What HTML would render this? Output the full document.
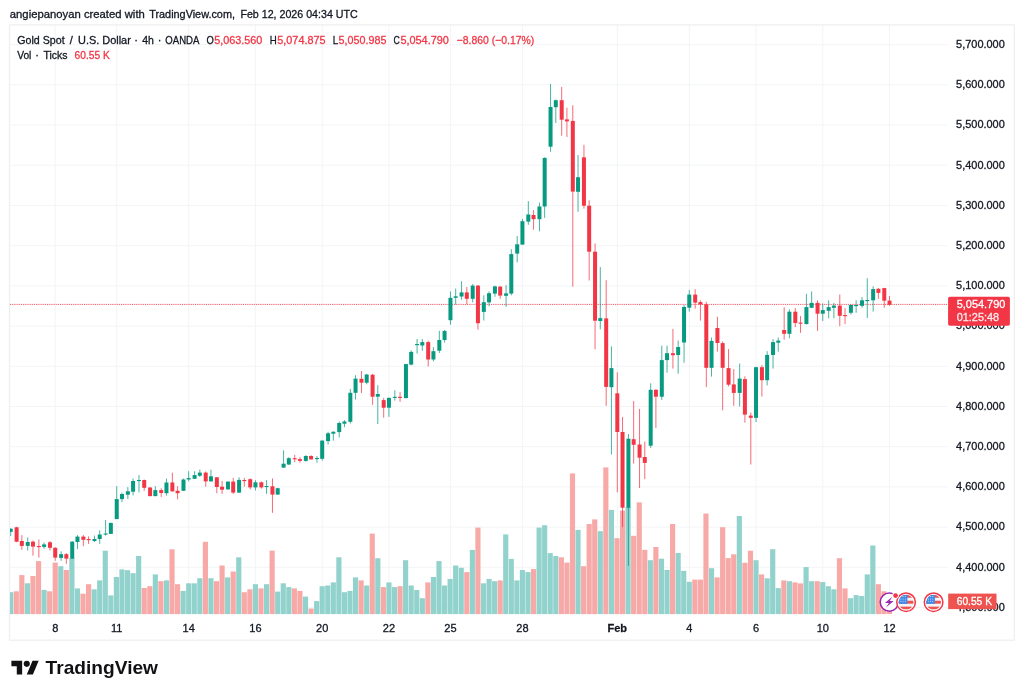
<!DOCTYPE html>
<html lang="en"><head><meta charset="utf-8"><title>Gold Spot / U.S. Dollar</title>
<style>html,body{margin:0;padding:0;background:#fff;}body{width:1024px;height:696px;overflow:hidden;font-family:"Liberation Sans", sans-serif;}svg{display:block;will-change:transform;}text{font-family:"Liberation Sans", sans-serif;paint-order:stroke fill;}</style></head><body>
<svg width="1024" height="696" viewBox="0 0 1024 696">
<rect width="1024" height="696" fill="#fff"/>
<defs><clipPath id="pane"><rect x="10" y="25" width="938" height="592"/></clipPath><clipPath id="fc"><circle cx="0" cy="0" r="7.4"/></clipPath></defs>
<g stroke="#f2f4f6" stroke-width="1"><line x1="10" x2="947.5" y1="607.5" y2="607.5"/><line x1="10" x2="947.5" y1="567.3" y2="567.3"/><line x1="10" x2="947.5" y1="527.1" y2="527.1"/><line x1="10" x2="947.5" y1="486.9" y2="486.9"/><line x1="10" x2="947.5" y1="446.7" y2="446.7"/><line x1="10" x2="947.5" y1="406.5" y2="406.5"/><line x1="10" x2="947.5" y1="366.3" y2="366.3"/><line x1="10" x2="947.5" y1="326.1" y2="326.1"/><line x1="10" x2="947.5" y1="285.9" y2="285.9"/><line x1="10" x2="947.5" y1="245.7" y2="245.7"/><line x1="10" x2="947.5" y1="205.4" y2="205.4"/><line x1="10" x2="947.5" y1="165.2" y2="165.2"/><line x1="10" x2="947.5" y1="125.0" y2="125.0"/><line x1="10" x2="947.5" y1="84.8" y2="84.8"/><line x1="10" x2="947.5" y1="44.6" y2="44.6"/><line x1="55.2" x2="55.2" y1="25" y2="614"/><line x1="116.7" x2="116.7" y1="25" y2="614"/><line x1="188.7" x2="188.7" y1="25" y2="614"/><line x1="255.4" x2="255.4" y1="25" y2="614"/><line x1="322.2" x2="322.2" y1="25" y2="614"/><line x1="388.9" x2="388.9" y1="25" y2="614"/><line x1="450.4" x2="450.4" y1="25" y2="614"/><line x1="522.4" x2="522.4" y1="25" y2="614"/><line x1="617.3" x2="617.3" y1="25" y2="614"/><line x1="689.3" x2="689.3" y1="25" y2="614"/><line x1="756.0" x2="756.0" y1="25" y2="614"/><line x1="822.8" x2="822.8" y1="25" y2="614"/><line x1="889.5" x2="889.5" y1="25" y2="614"/></g>
<rect x="9.5" y="24.9" width="1004.9" height="615.3" fill="none" stroke="#eeeff2" stroke-width="1.3"/>
<g clip-path="url(#pane)"><g fill="#92d2cc"><rect x="8.14" y="592.2" width="5.16" height="21.9"/><rect x="24.83" y="583.3" width="5.16" height="30.8"/><rect x="41.51" y="589.9" width="5.16" height="24.2"/><rect x="58.20" y="566.2" width="5.16" height="47.9"/><rect x="69.32" y="558.0" width="5.16" height="56.1"/><rect x="74.88" y="588.4" width="5.16" height="25.7"/><rect x="91.57" y="589.3" width="5.16" height="24.8"/><rect x="97.13" y="580.4" width="5.16" height="33.7"/><rect x="102.69" y="550.7" width="5.16" height="63.4"/><rect x="108.26" y="595.4" width="5.16" height="18.7"/><rect x="113.82" y="577.0" width="5.16" height="37.1"/><rect x="119.38" y="569.4" width="5.16" height="44.7"/><rect x="124.94" y="570.2" width="5.16" height="43.9"/><rect x="130.50" y="573.2" width="5.16" height="40.9"/><rect x="136.07" y="556.0" width="5.16" height="58.1"/><rect x="152.75" y="574.4" width="5.16" height="39.7"/><rect x="163.88" y="580.4" width="5.16" height="33.7"/><rect x="180.56" y="590.9" width="5.16" height="23.2"/><rect x="186.12" y="583.3" width="5.16" height="30.8"/><rect x="191.69" y="583.3" width="5.16" height="30.8"/><rect x="197.25" y="578.2" width="5.16" height="35.9"/><rect x="208.37" y="578.2" width="5.16" height="35.9"/><rect x="225.06" y="577.4" width="5.16" height="36.7"/><rect x="236.18" y="557.3" width="5.16" height="56.8"/><rect x="252.87" y="584.2" width="5.16" height="29.9"/><rect x="263.99" y="584.2" width="5.16" height="29.9"/><rect x="275.12" y="591.6" width="5.16" height="22.5"/><rect x="280.68" y="583.3" width="5.16" height="30.8"/><rect x="286.24" y="587.1" width="5.16" height="27.0"/><rect x="302.93" y="596.6" width="5.16" height="17.5"/><rect x="314.05" y="601.1" width="5.16" height="13.0"/><rect x="319.61" y="586.2" width="5.16" height="27.9"/><rect x="325.17" y="585.5" width="5.16" height="28.6"/><rect x="330.74" y="582.4" width="5.16" height="31.7"/><rect x="336.30" y="557.3" width="5.16" height="56.8"/><rect x="341.86" y="592.2" width="5.16" height="21.9"/><rect x="347.42" y="590.9" width="5.16" height="23.2"/><rect x="352.98" y="577.4" width="5.16" height="36.7"/><rect x="364.11" y="585.5" width="5.16" height="28.6"/><rect x="375.23" y="558.2" width="5.16" height="55.9"/><rect x="386.36" y="582.4" width="5.16" height="31.7"/><rect x="391.92" y="587.1" width="5.16" height="27.0"/><rect x="403.04" y="560.2" width="5.16" height="53.9"/><rect x="408.60" y="585.5" width="5.16" height="28.6"/><rect x="414.17" y="590.0" width="5.16" height="24.1"/><rect x="419.73" y="598.2" width="5.16" height="15.9"/><rect x="430.85" y="577.0" width="5.16" height="37.1"/><rect x="436.41" y="561.1" width="5.16" height="53.0"/><rect x="441.98" y="585.5" width="5.16" height="28.6"/><rect x="447.54" y="578.9" width="5.16" height="35.2"/><rect x="453.10" y="565.5" width="5.16" height="48.6"/><rect x="458.66" y="567.8" width="5.16" height="46.3"/><rect x="469.79" y="549.9" width="5.16" height="64.2"/><rect x="480.91" y="583.3" width="5.16" height="30.8"/><rect x="486.47" y="578.9" width="5.16" height="35.2"/><rect x="492.03" y="581.2" width="5.16" height="32.9"/><rect x="503.16" y="534.4" width="5.16" height="79.7"/><rect x="508.72" y="558.9" width="5.16" height="55.2"/><rect x="514.28" y="580.4" width="5.16" height="33.7"/><rect x="519.84" y="570.0" width="5.16" height="44.1"/><rect x="525.41" y="572.1" width="5.16" height="42.0"/><rect x="536.53" y="527.6" width="5.16" height="86.5"/><rect x="542.09" y="525.2" width="5.16" height="88.9"/><rect x="547.65" y="553.1" width="5.16" height="61.0"/><rect x="553.22" y="556.0" width="5.16" height="58.1"/><rect x="575.46" y="529.9" width="5.16" height="84.2"/><rect x="597.71" y="531.2" width="5.16" height="82.9"/><rect x="608.84" y="509.9" width="5.16" height="104.2"/><rect x="625.52" y="507.0" width="5.16" height="107.1"/><rect x="647.77" y="560.2" width="5.16" height="53.9"/><rect x="658.89" y="558.7" width="5.16" height="55.4"/><rect x="664.46" y="570.0" width="5.16" height="44.1"/><rect x="675.58" y="553.0" width="5.16" height="61.1"/><rect x="681.14" y="570.8" width="5.16" height="43.3"/><rect x="686.70" y="581.8" width="5.16" height="32.3"/><rect x="708.95" y="568.2" width="5.16" height="45.9"/><rect x="736.76" y="516.0" width="5.16" height="98.1"/><rect x="753.45" y="560.2" width="5.16" height="53.9"/><rect x="764.57" y="578.3" width="5.16" height="35.8"/><rect x="770.13" y="549.2" width="5.16" height="64.9"/><rect x="775.70" y="588.1" width="5.16" height="26.0"/><rect x="786.82" y="581.2" width="5.16" height="32.9"/><rect x="803.51" y="567.1" width="5.16" height="47.0"/><rect x="809.07" y="581.2" width="5.16" height="32.9"/><rect x="820.19" y="582.0" width="5.16" height="32.1"/><rect x="825.75" y="586.2" width="5.16" height="27.9"/><rect x="831.32" y="589.3" width="5.16" height="24.8"/><rect x="848.00" y="598.2" width="5.16" height="15.9"/><rect x="853.56" y="595.1" width="5.16" height="19.0"/><rect x="859.13" y="596.0" width="5.16" height="18.1"/><rect x="864.69" y="574.4" width="5.16" height="39.7"/><rect x="870.25" y="545.5" width="5.16" height="68.6"/></g><g fill="#f7a9a7"><rect x="13.70" y="591.3" width="5.16" height="22.8"/><rect x="19.26" y="575.1" width="5.16" height="39.0"/><rect x="30.39" y="576.0" width="5.16" height="38.1"/><rect x="35.95" y="561.1" width="5.16" height="53.0"/><rect x="47.07" y="591.3" width="5.16" height="22.8"/><rect x="52.64" y="562.6" width="5.16" height="51.5"/><rect x="63.76" y="570.0" width="5.16" height="44.1"/><rect x="80.45" y="593.7" width="5.16" height="20.4"/><rect x="86.01" y="584.2" width="5.16" height="29.9"/><rect x="141.63" y="588.0" width="5.16" height="26.1"/><rect x="147.19" y="586.2" width="5.16" height="27.9"/><rect x="158.31" y="581.2" width="5.16" height="32.9"/><rect x="169.44" y="549.3" width="5.16" height="64.8"/><rect x="175.00" y="584.2" width="5.16" height="29.9"/><rect x="202.81" y="541.8" width="5.16" height="72.3"/><rect x="213.93" y="581.2" width="5.16" height="32.9"/><rect x="219.50" y="565.5" width="5.16" height="48.6"/><rect x="230.62" y="571.5" width="5.16" height="42.6"/><rect x="241.74" y="592.2" width="5.16" height="21.9"/><rect x="247.31" y="589.3" width="5.16" height="24.8"/><rect x="258.43" y="588.4" width="5.16" height="25.7"/><rect x="269.55" y="550.6" width="5.16" height="63.5"/><rect x="291.80" y="588.4" width="5.16" height="25.7"/><rect x="297.36" y="590.9" width="5.16" height="23.2"/><rect x="308.49" y="608.5" width="5.16" height="5.6"/><rect x="358.55" y="580.4" width="5.16" height="33.7"/><rect x="369.67" y="533.6" width="5.16" height="80.5"/><rect x="380.79" y="587.1" width="5.16" height="27.0"/><rect x="397.48" y="586.2" width="5.16" height="27.9"/><rect x="425.29" y="582.4" width="5.16" height="31.7"/><rect x="464.22" y="572.1" width="5.16" height="42.0"/><rect x="475.35" y="527.6" width="5.16" height="86.5"/><rect x="497.60" y="580.4" width="5.16" height="33.7"/><rect x="530.97" y="569.1" width="5.16" height="45.0"/><rect x="558.78" y="557.3" width="5.16" height="56.8"/><rect x="564.34" y="562.6" width="5.16" height="51.5"/><rect x="569.90" y="473.4" width="5.16" height="140.7"/><rect x="581.03" y="566.2" width="5.16" height="47.9"/><rect x="586.59" y="524.0" width="5.16" height="90.1"/><rect x="592.15" y="519.4" width="5.16" height="94.7"/><rect x="603.27" y="467.4" width="5.16" height="146.7"/><rect x="614.40" y="538.2" width="5.16" height="75.9"/><rect x="619.96" y="510.6" width="5.16" height="103.5"/><rect x="631.08" y="535.8" width="5.16" height="78.3"/><rect x="636.65" y="502.4" width="5.16" height="111.7"/><rect x="642.21" y="549.9" width="5.16" height="64.2"/><rect x="653.33" y="547.0" width="5.16" height="67.1"/><rect x="670.02" y="524.0" width="5.16" height="90.1"/><rect x="692.27" y="579.6" width="5.16" height="34.5"/><rect x="697.83" y="579.6" width="5.16" height="34.5"/><rect x="703.39" y="513.5" width="5.16" height="100.6"/><rect x="714.51" y="577.4" width="5.16" height="36.7"/><rect x="720.08" y="527.2" width="5.16" height="86.9"/><rect x="725.64" y="558.1" width="5.16" height="56.0"/><rect x="731.20" y="554.3" width="5.16" height="59.8"/><rect x="742.32" y="562.8" width="5.16" height="51.3"/><rect x="747.89" y="550.7" width="5.16" height="63.4"/><rect x="759.01" y="574.4" width="5.16" height="39.7"/><rect x="781.26" y="580.4" width="5.16" height="33.7"/><rect x="792.38" y="582.4" width="5.16" height="31.7"/><rect x="797.94" y="583.4" width="5.16" height="30.7"/><rect x="814.63" y="581.2" width="5.16" height="32.9"/><rect x="836.88" y="558.2" width="5.16" height="55.9"/><rect x="842.44" y="588.4" width="5.16" height="25.7"/><rect x="875.81" y="584.2" width="5.16" height="29.9"/><rect x="881.37" y="591.3" width="5.16" height="22.8"/><rect x="886.94" y="601.0" width="5.16" height="13.1"/></g></g>
<line x1="10" x2="947.5" y1="304.4" y2="304.4" stroke="#f23645" stroke-width="1" stroke-dasharray="0.9 0.95" opacity="0.95"/>
<g clip-path="url(#pane)"><g stroke="#089981" stroke-width="0.9" opacity="0.82"><line x1="10.72" x2="10.72" y1="528.0" y2="536.1"/><line x1="27.74" x2="27.74" y1="537.4" y2="550.5"/><line x1="44.09" x2="44.09" y1="542.5" y2="548.8"/><line x1="61.11" x2="61.11" y1="551.3" y2="560.8"/><line x1="72.23" x2="72.23" y1="541.0" y2="558.9"/><line x1="77.46" x2="77.46" y1="535.1" y2="549.1"/><line x1="94.48" x2="94.48" y1="535.6" y2="542.0"/><line x1="99.71" x2="99.71" y1="530.3" y2="543.9"/><line x1="105.60" x2="105.60" y1="520.0" y2="535.6"/><line x1="110.84" x2="110.84" y1="522.4" y2="533.9"/><line x1="116.73" x2="116.73" y1="486.2" y2="519.1"/><line x1="121.96" x2="121.96" y1="492.7" y2="502.0"/><line x1="127.85" x2="127.85" y1="487.1" y2="499.1"/><line x1="133.08" x2="133.08" y1="478.6" y2="495.4"/><line x1="138.98" x2="138.98" y1="475.1" y2="492.4"/><line x1="155.33" x2="155.33" y1="486.2" y2="496.3"/><line x1="166.46" x2="166.46" y1="478.6" y2="495.6"/><line x1="183.47" x2="183.47" y1="478.6" y2="491.0"/><line x1="188.70" x2="188.70" y1="471.2" y2="481.3"/><line x1="194.60" x2="194.60" y1="471.2" y2="479.0"/><line x1="199.83" x2="199.83" y1="469.6" y2="477.0"/><line x1="210.95" x2="210.95" y1="469.6" y2="481.6"/><line x1="227.97" x2="227.97" y1="481.4" y2="489.6"/><line x1="239.09" x2="239.09" y1="477.3" y2="493.0"/><line x1="255.45" x2="255.45" y1="480.2" y2="490.4"/><line x1="266.57" x2="266.57" y1="480.2" y2="493.9"/><line x1="277.70" x2="277.70" y1="487.8" y2="494.8"/><line x1="283.59" x2="283.59" y1="450.3" y2="467.8"/><line x1="288.82" x2="288.82" y1="457.2" y2="465.0"/><line x1="305.84" x2="305.84" y1="455.2" y2="461.8"/><line x1="316.96" x2="316.96" y1="456.2" y2="462.7"/><line x1="322.19" x2="322.19" y1="440.3" y2="460.6"/><line x1="328.08" x2="328.08" y1="431.8" y2="444.5"/><line x1="333.32" x2="333.32" y1="431.1" y2="440.6"/><line x1="339.21" x2="339.21" y1="421.5" y2="437.6"/><line x1="344.44" x2="344.44" y1="420.1" y2="427.2"/><line x1="350.33" x2="350.33" y1="388.9" y2="423.5"/><line x1="355.56" x2="355.56" y1="375.2" y2="399.6"/><line x1="366.69" x2="366.69" y1="374.0" y2="384.3"/><line x1="377.81" x2="377.81" y1="385.2" y2="424.0"/><line x1="388.94" x2="388.94" y1="397.5" y2="416.9"/><line x1="394.83" x2="394.83" y1="390.3" y2="400.6"/><line x1="405.95" x2="405.95" y1="363.8" y2="398.3"/><line x1="411.18" x2="411.18" y1="350.4" y2="365.4"/><line x1="417.08" x2="417.08" y1="339.0" y2="353.6"/><line x1="422.31" x2="422.31" y1="339.0" y2="350.7"/><line x1="433.43" x2="433.43" y1="347.2" y2="361.4"/><line x1="439.32" x2="439.32" y1="330.9" y2="353.0"/><line x1="444.56" x2="444.56" y1="330.2" y2="342.6"/><line x1="450.45" x2="450.45" y1="291.4" y2="324.8"/><line x1="455.68" x2="455.68" y1="288.5" y2="304.6"/><line x1="461.57" x2="461.57" y1="281.2" y2="299.7"/><line x1="472.70" x2="472.70" y1="284.1" y2="302.4"/><line x1="483.82" x2="483.82" y1="295.3" y2="320.5"/><line x1="489.05" x2="489.05" y1="291.4" y2="306.3"/><line x1="494.94" x2="494.94" y1="285.6" y2="296.8"/><line x1="506.07" x2="506.07" y1="285.1" y2="306.9"/><line x1="511.30" x2="511.30" y1="249.2" y2="295.3"/><line x1="517.19" x2="517.19" y1="236.0" y2="262.4"/><line x1="522.42" x2="522.42" y1="218.9" y2="244.8"/><line x1="528.32" x2="528.32" y1="201.1" y2="224.8"/><line x1="539.44" x2="539.44" y1="202.6" y2="231.3"/><line x1="544.67" x2="544.67" y1="157.3" y2="217.9"/><line x1="550.56" x2="550.56" y1="84.0" y2="151.8"/><line x1="555.80" x2="555.80" y1="99.5" y2="122.9"/><line x1="578.04" x2="578.04" y1="155.0" y2="211.8"/><line x1="600.29" x2="600.29" y1="267.1" y2="329.3"/><line x1="611.42" x2="611.42" y1="346.4" y2="454.5"/><line x1="628.43" x2="628.43" y1="434.0" y2="565.8"/><line x1="650.68" x2="650.68" y1="383.3" y2="448.0"/><line x1="661.80" x2="661.80" y1="345.7" y2="399.9"/><line x1="667.04" x2="667.04" y1="345.7" y2="372.7"/><line x1="678.16" x2="678.16" y1="340.5" y2="373.7"/><line x1="684.05" x2="684.05" y1="305.0" y2="362.7"/><line x1="689.28" x2="689.28" y1="289.9" y2="311.6"/><line x1="711.53" x2="711.53" y1="337.5" y2="376.6"/><line x1="739.67" x2="739.67" y1="363.6" y2="406.5"/><line x1="756.03" x2="756.03" y1="366.8" y2="422.0"/><line x1="767.15" x2="767.15" y1="351.2" y2="385.4"/><line x1="773.04" x2="773.04" y1="339.1" y2="368.6"/><line x1="778.28" x2="778.28" y1="337.5" y2="351.7"/><line x1="789.40" x2="789.40" y1="309.3" y2="338.2"/><line x1="806.42" x2="806.42" y1="293.9" y2="324.4"/><line x1="811.65" x2="811.65" y1="291.5" y2="308.1"/><line x1="822.77" x2="822.77" y1="303.4" y2="321.0"/><line x1="828.66" x2="828.66" y1="300.3" y2="318.3"/><line x1="833.90" x2="833.90" y1="302.9" y2="318.3"/><line x1="850.91" x2="850.91" y1="304.4" y2="314.5"/><line x1="856.14" x2="856.14" y1="300.3" y2="312.8"/><line x1="862.04" x2="862.04" y1="297.0" y2="307.7"/><line x1="867.27" x2="867.27" y1="278.2" y2="318.0"/><line x1="873.16" x2="873.16" y1="286.4" y2="311.6"/></g><g stroke="#f23645" stroke-width="0.9" opacity="0.82"><line x1="16.61" x2="16.61" y1="526.8" y2="542.3"/><line x1="21.84" x2="21.84" y1="535.1" y2="549.8"/><line x1="32.97" x2="32.97" y1="540.5" y2="555.6"/><line x1="38.86" x2="38.86" y1="539.5" y2="557.6"/><line x1="49.98" x2="49.98" y1="541.0" y2="550.5"/><line x1="55.22" x2="55.22" y1="547.3" y2="560.8"/><line x1="66.34" x2="66.34" y1="553.0" y2="563.8"/><line x1="83.36" x2="83.36" y1="535.1" y2="546.2"/><line x1="88.59" x2="88.59" y1="536.4" y2="543.9"/><line x1="144.21" x2="144.21" y1="479.5" y2="490.8"/><line x1="150.10" x2="150.10" y1="487.2" y2="496.3"/><line x1="161.22" x2="161.22" y1="488.3" y2="496.9"/><line x1="172.35" x2="172.35" y1="472.7" y2="491.8"/><line x1="177.58" x2="177.58" y1="486.2" y2="499.3"/><line x1="205.72" x2="205.72" y1="471.4" y2="486.7"/><line x1="216.84" x2="216.84" y1="477.3" y2="493.3"/><line x1="222.08" x2="222.08" y1="480.9" y2="493.9"/><line x1="233.20" x2="233.20" y1="477.9" y2="493.9"/><line x1="244.32" x2="244.32" y1="477.9" y2="486.7"/><line x1="250.22" x2="250.22" y1="478.4" y2="489.4"/><line x1="261.34" x2="261.34" y1="481.5" y2="488.7"/><line x1="272.46" x2="272.46" y1="478.4" y2="512.8"/><line x1="294.71" x2="294.71" y1="454.9" y2="462.1"/><line x1="299.94" x2="299.94" y1="457.2" y2="462.7"/><line x1="311.07" x2="311.07" y1="455.2" y2="459.6"/><line x1="361.46" x2="361.46" y1="371.0" y2="393.1"/><line x1="372.58" x2="372.58" y1="374.0" y2="404.8"/><line x1="383.70" x2="383.70" y1="397.9" y2="417.7"/><line x1="400.06" x2="400.06" y1="392.1" y2="401.8"/><line x1="428.20" x2="428.20" y1="340.6" y2="366.5"/><line x1="466.80" x2="466.80" y1="287.0" y2="304.3"/><line x1="477.93" x2="477.93" y1="285.1" y2="329.7"/><line x1="500.18" x2="500.18" y1="286.1" y2="298.8"/><line x1="533.55" x2="533.55" y1="210.1" y2="229.7"/><line x1="561.69" x2="561.69" y1="86.9" y2="135.7"/><line x1="566.92" x2="566.92" y1="107.7" y2="137.0"/><line x1="572.81" x2="572.81" y1="105.3" y2="286.7"/><line x1="583.94" x2="583.94" y1="144.8" y2="208.7"/><line x1="589.17" x2="589.17" y1="200.3" y2="280.5"/><line x1="595.06" x2="595.06" y1="243.4" y2="349.3"/><line x1="606.18" x2="606.18" y1="280.2" y2="405.8"/><line x1="617.31" x2="617.31" y1="372.3" y2="492.3"/><line x1="622.54" x2="622.54" y1="416.9" y2="527.2"/><line x1="633.66" x2="633.66" y1="401.1" y2="463.6"/><line x1="639.56" x2="639.56" y1="408.9" y2="488.0"/><line x1="644.79" x2="644.79" y1="441.6" y2="479.2"/><line x1="655.91" x2="655.91" y1="389.3" y2="427.9"/><line x1="672.93" x2="672.93" y1="328.8" y2="368.6"/><line x1="695.18" x2="695.18" y1="289.1" y2="308.6"/><line x1="700.41" x2="700.41" y1="300.4" y2="320.6"/><line x1="706.30" x2="706.30" y1="301.8" y2="387.1"/><line x1="717.42" x2="717.42" y1="316.7" y2="351.5"/><line x1="722.66" x2="722.66" y1="341.4" y2="410.3"/><line x1="728.55" x2="728.55" y1="349.0" y2="386.4"/><line x1="733.78" x2="733.78" y1="369.1" y2="405.8"/><line x1="744.90" x2="744.90" y1="376.3" y2="422.7"/><line x1="750.80" x2="750.80" y1="412.5" y2="464.5"/><line x1="761.92" x2="761.92" y1="365.2" y2="396.6"/><line x1="784.17" x2="784.17" y1="307.3" y2="339.7"/><line x1="795.29" x2="795.29" y1="308.1" y2="327.1"/><line x1="800.52" x2="800.52" y1="316.1" y2="332.9"/><line x1="817.54" x2="817.54" y1="300.3" y2="331.0"/><line x1="839.79" x2="839.79" y1="294.5" y2="326.3"/><line x1="845.02" x2="845.02" y1="308.0" y2="324.0"/><line x1="878.39" x2="878.39" y1="288.0" y2="298.9"/><line x1="884.28" x2="884.28" y1="287.8" y2="307.7"/><line x1="889.52" x2="889.52" y1="295.9" y2="305.9"/></g><g fill="#089981"><rect x="8.72" y="528.8" width="4" height="3.1"/><rect x="25.74" y="542.0" width="4" height="3.9"/><rect x="42.09" y="544.4" width="4" height="2.5"/><rect x="59.11" y="554.2" width="4" height="3.7"/><rect x="70.23" y="541.7" width="4" height="16.9"/><rect x="75.46" y="536.6" width="4" height="5.4"/><rect x="92.48" y="539.0" width="4" height="2.0"/><rect x="97.71" y="534.5" width="4" height="4.5"/><rect x="103.60" y="533.5" width="4" height="1.1"/><rect x="108.84" y="523.0" width="4" height="10.9"/><rect x="114.73" y="499.1" width="4" height="20.0"/><rect x="119.96" y="494.0" width="4" height="5.1"/><rect x="125.85" y="491.3" width="4" height="3.4"/><rect x="131.08" y="481.0" width="4" height="10.7"/><rect x="136.98" y="480.0" width="4" height="1.1"/><rect x="153.33" y="490.1" width="4" height="6.0"/><rect x="164.46" y="482.5" width="4" height="10.7"/><rect x="181.47" y="479.5" width="4" height="11.3"/><rect x="186.70" y="478.1" width="4" height="1.4"/><rect x="192.60" y="475.1" width="4" height="3.7"/><rect x="197.83" y="472.6" width="4" height="3.1"/><rect x="208.95" y="476.3" width="4" height="5.1"/><rect x="225.97" y="481.6" width="4" height="7.8"/><rect x="237.09" y="479.9" width="4" height="12.7"/><rect x="253.45" y="482.3" width="4" height="5.1"/><rect x="264.57" y="486.0" width="4" height="1.1"/><rect x="275.70" y="488.2" width="4" height="6.4"/><rect x="281.59" y="463.7" width="4" height="3.9"/><rect x="286.82" y="458.2" width="4" height="6.3"/><rect x="303.84" y="456.0" width="4" height="4.9"/><rect x="314.96" y="458.0" width="4" height="1.1"/><rect x="320.19" y="440.6" width="4" height="18.2"/><rect x="326.08" y="433.3" width="4" height="7.8"/><rect x="331.32" y="431.8" width="4" height="1.9"/><rect x="337.21" y="423.0" width="4" height="9.1"/><rect x="342.44" y="421.5" width="4" height="2.2"/><rect x="348.33" y="392.8" width="4" height="29.0"/><rect x="353.56" y="378.6" width="4" height="14.2"/><rect x="364.69" y="374.5" width="4" height="8.2"/><rect x="375.81" y="394.0" width="4" height="2.7"/><rect x="386.94" y="397.9" width="4" height="9.8"/><rect x="392.83" y="396.8" width="4" height="1.1"/><rect x="403.95" y="364.1" width="4" height="34.0"/><rect x="409.18" y="351.9" width="4" height="12.7"/><rect x="415.08" y="344.0" width="4" height="1.1"/><rect x="420.31" y="342.1" width="4" height="3.4"/><rect x="431.43" y="351.2" width="4" height="8.3"/><rect x="437.32" y="340.0" width="4" height="10.7"/><rect x="442.56" y="330.9" width="4" height="9.1"/><rect x="448.45" y="297.8" width="4" height="22.4"/><rect x="453.68" y="296.3" width="4" height="1.5"/><rect x="459.57" y="292.4" width="4" height="4.1"/><rect x="470.70" y="285.6" width="4" height="13.2"/><rect x="481.82" y="302.2" width="4" height="9.7"/><rect x="487.05" y="293.2" width="4" height="9.2"/><rect x="492.94" y="286.4" width="4" height="7.2"/><rect x="504.07" y="293.4" width="4" height="2.4"/><rect x="509.30" y="254.1" width="4" height="39.5"/><rect x="515.19" y="244.3" width="4" height="9.3"/><rect x="520.42" y="221.2" width="4" height="23.4"/><rect x="526.32" y="214.5" width="4" height="7.1"/><rect x="537.44" y="206.5" width="4" height="12.7"/><rect x="542.67" y="157.9" width="4" height="48.6"/><rect x="548.56" y="107.0" width="4" height="39.7"/><rect x="553.80" y="100.2" width="4" height="7.0"/><rect x="576.04" y="177.2" width="4" height="14.6"/><rect x="598.29" y="318.1" width="4" height="2.9"/><rect x="609.42" y="368.1" width="4" height="19.1"/><rect x="626.43" y="438.7" width="4" height="69.0"/><rect x="648.68" y="389.8" width="4" height="55.9"/><rect x="659.80" y="360.1" width="4" height="36.6"/><rect x="665.04" y="353.2" width="4" height="6.9"/><rect x="676.16" y="347.0" width="4" height="8.0"/><rect x="682.05" y="307.0" width="4" height="35.5"/><rect x="687.28" y="294.6" width="4" height="13.1"/><rect x="709.53" y="340.9" width="4" height="26.9"/><rect x="737.67" y="378.6" width="4" height="14.3"/><rect x="754.03" y="367.2" width="4" height="50.6"/><rect x="765.15" y="354.9" width="4" height="25.3"/><rect x="771.04" y="342.1" width="4" height="12.9"/><rect x="776.28" y="340.6" width="4" height="2.1"/><rect x="787.40" y="311.7" width="4" height="22.1"/><rect x="804.42" y="307.1" width="4" height="17.0"/><rect x="809.65" y="302.9" width="4" height="4.9"/><rect x="820.77" y="310.1" width="4" height="3.6"/><rect x="826.66" y="307.1" width="4" height="3.7"/><rect x="831.90" y="305.6" width="4" height="2.2"/><rect x="848.91" y="305.0" width="4" height="7.8"/><rect x="854.14" y="305.0" width="4" height="1.1"/><rect x="860.04" y="300.3" width="4" height="5.5"/><rect x="865.27" y="300.0" width="4" height="1.1"/><rect x="871.16" y="289.1" width="4" height="11.2"/></g><g fill="#f23645"><rect x="14.61" y="527.3" width="4" height="14.4"/><rect x="19.84" y="541.0" width="4" height="4.9"/><rect x="30.97" y="541.7" width="4" height="4.9"/><rect x="36.86" y="546.0" width="4" height="1.1"/><rect x="47.98" y="542.3" width="4" height="5.5"/><rect x="53.22" y="547.8" width="4" height="9.8"/><rect x="64.34" y="554.2" width="4" height="4.4"/><rect x="81.36" y="536.6" width="4" height="3.2"/><rect x="86.59" y="539.1" width="4" height="1.1"/><rect x="142.21" y="480.0" width="4" height="7.8"/><rect x="148.10" y="487.5" width="4" height="8.6"/><rect x="159.22" y="490.1" width="4" height="2.9"/><rect x="170.35" y="482.5" width="4" height="8.8"/><rect x="175.58" y="490.8" width="4" height="2.4"/><rect x="203.72" y="472.6" width="4" height="8.8"/><rect x="214.84" y="477.3" width="4" height="9.7"/><rect x="220.08" y="486.7" width="4" height="3.0"/><rect x="231.20" y="481.6" width="4" height="11.0"/><rect x="242.32" y="480.0" width="4" height="1.1"/><rect x="248.22" y="479.2" width="4" height="8.2"/><rect x="259.34" y="482.3" width="4" height="5.1"/><rect x="270.46" y="486.3" width="4" height="8.3"/><rect x="292.71" y="458.2" width="4" height="1.1"/><rect x="297.94" y="459.1" width="4" height="1.8"/><rect x="309.07" y="456.0" width="4" height="3.4"/><rect x="359.46" y="378.8" width="4" height="3.9"/><rect x="370.58" y="374.7" width="4" height="22.0"/><rect x="381.70" y="400.1" width="4" height="7.6"/><rect x="398.06" y="396.8" width="4" height="1.1"/><rect x="426.20" y="342.1" width="4" height="17.4"/><rect x="464.80" y="292.4" width="4" height="6.4"/><rect x="475.93" y="285.6" width="4" height="37.6"/><rect x="498.18" y="286.6" width="4" height="9.0"/><rect x="531.55" y="215.0" width="4" height="4.2"/><rect x="559.69" y="100.2" width="4" height="19.5"/><rect x="564.92" y="119.4" width="4" height="2.0"/><rect x="570.81" y="120.9" width="4" height="70.7"/><rect x="581.94" y="157.3" width="4" height="48.4"/><rect x="587.17" y="205.7" width="4" height="46.0"/><rect x="593.06" y="251.7" width="4" height="69.0"/><rect x="604.18" y="318.4" width="4" height="68.5"/><rect x="615.31" y="393.3" width="4" height="38.7"/><rect x="620.54" y="432.0" width="4" height="75.7"/><rect x="631.66" y="439.2" width="4" height="5.6"/><rect x="637.56" y="444.5" width="4" height="13.2"/><rect x="642.79" y="457.0" width="4" height="5.9"/><rect x="653.91" y="389.8" width="4" height="6.9"/><rect x="670.93" y="353.2" width="4" height="2.0"/><rect x="693.18" y="294.6" width="4" height="8.0"/><rect x="698.41" y="302.1" width="4" height="2.4"/><rect x="704.30" y="304.3" width="4" height="63.5"/><rect x="715.42" y="328.0" width="4" height="15.0"/><rect x="720.66" y="343.1" width="4" height="24.7"/><rect x="726.55" y="368.1" width="4" height="16.6"/><rect x="731.78" y="384.4" width="4" height="8.5"/><rect x="742.90" y="379.1" width="4" height="35.5"/><rect x="748.80" y="415.6" width="4" height="2.2"/><rect x="759.92" y="367.2" width="4" height="13.0"/><rect x="782.17" y="330.0" width="4" height="3.8"/><rect x="793.29" y="311.7" width="4" height="11.3"/><rect x="798.52" y="322.6" width="4" height="1.1"/><rect x="815.54" y="302.9" width="4" height="10.8"/><rect x="837.79" y="305.6" width="4" height="10.2"/><rect x="843.02" y="315.1" width="4" height="1.1"/><rect x="876.39" y="288.8" width="4" height="4.1"/><rect x="882.28" y="288.1" width="4" height="12.6"/><rect x="887.52" y="300.6" width="4" height="4.2"/></g></g>
<text x="9.8" y="18.2" font-size="11" fill="#131722" textLength="135.0" lengthAdjust="spacingAndGlyphs" stroke="#131722" stroke-width="0.3">angiepanoyan created with</text>
<text x="149.2" y="18.2" font-size="11" fill="#131722" textLength="85.8" lengthAdjust="spacingAndGlyphs" stroke="#131722" stroke-width="0.3">TradingView.com,</text>
<text x="240.4" y="18.2" font-size="11" fill="#131722" textLength="117.3" lengthAdjust="spacingAndGlyphs" stroke="#131722" stroke-width="0.3">Feb 12, 2026 04:34 UTC</text>
<text x="17.3" y="44.0" font-size="11" fill="#131722" textLength="47.3" lengthAdjust="spacingAndGlyphs" stroke="#131722" stroke-width="0.3">Gold Spot</text>
<text x="71.2" y="44.0" font-size="11" fill="#131722" text-anchor="middle" stroke="#131722" stroke-width="0.3">/</text>
<text x="78.0" y="44.0" font-size="11" fill="#131722" textLength="52.8" lengthAdjust="spacingAndGlyphs" stroke="#131722" stroke-width="0.3">U.S. Dollar</text>
<text x="136.2" y="44.0" font-size="11" fill="#131722" text-anchor="middle" stroke="#131722" stroke-width="0.3">·</text>
<text x="142.2" y="44.0" font-size="11" fill="#131722" textLength="11.7" lengthAdjust="spacingAndGlyphs" stroke="#131722" stroke-width="0.3">4h</text>
<text x="159.6" y="44.0" font-size="11" fill="#131722" text-anchor="middle" stroke="#131722" stroke-width="0.3">·</text>
<text x="165.3" y="44.0" font-size="11" fill="#131722" textLength="34.1" lengthAdjust="spacingAndGlyphs" stroke="#131722" stroke-width="0.3">OANDA</text>
<text x="206.4" y="44.0" font-size="11" fill="#131722" textLength="7.3" lengthAdjust="spacingAndGlyphs" stroke="#131722" stroke-width="0.3">O</text>
<text x="214.2" y="44.0" font-size="11" fill="#f23645" textLength="48.2" lengthAdjust="spacingAndGlyphs" stroke="#f23645" stroke-width="0.3">5,063.560</text>
<text x="269.8" y="44.0" font-size="11" fill="#131722" textLength="7.0" lengthAdjust="spacingAndGlyphs" stroke="#131722" stroke-width="0.3">H</text>
<text x="277.3" y="44.0" font-size="11" fill="#f23645" textLength="48.2" lengthAdjust="spacingAndGlyphs" stroke="#f23645" stroke-width="0.3">5,074.875</text>
<text x="332.7" y="44.0" font-size="11" fill="#131722" textLength="5.4" lengthAdjust="spacingAndGlyphs" stroke="#131722" stroke-width="0.3">L</text>
<text x="338.6" y="44.0" font-size="11" fill="#f23645" textLength="47.8" lengthAdjust="spacingAndGlyphs" stroke="#f23645" stroke-width="0.3">5,050.985</text>
<text x="393.6" y="44.0" font-size="11" fill="#131722" textLength="6.3" lengthAdjust="spacingAndGlyphs" stroke="#131722" stroke-width="0.3">C</text>
<text x="400.4" y="44.0" font-size="11" fill="#f23645" textLength="48.5" lengthAdjust="spacingAndGlyphs" stroke="#f23645" stroke-width="0.3">5,054.790</text>
<text x="456.7" y="44.0" font-size="11" fill="#f23645" textLength="77.5" lengthAdjust="spacingAndGlyphs" stroke="#f23645" stroke-width="0.3">−8.860 (−0.17%)</text>
<text x="17.2" y="59.2" font-size="11" fill="#131722" textLength="14.2" lengthAdjust="spacingAndGlyphs" stroke="#131722" stroke-width="0.3">Vol</text>
<text x="37.0" y="59.2" font-size="11" fill="#131722" text-anchor="middle" stroke="#131722" stroke-width="0.3">·</text>
<text x="43.4" y="59.2" font-size="11" fill="#131722" textLength="24.0" lengthAdjust="spacingAndGlyphs" stroke="#131722" stroke-width="0.3">Ticks</text>
<text x="74.6" y="59.2" font-size="11" fill="#f23645" textLength="35.3" lengthAdjust="spacingAndGlyphs" stroke="#f23645" stroke-width="0.3">60.55 K</text>
<text x="956.1" y="610.8" font-size="11" fill="#131722" textLength="48.7" lengthAdjust="spacingAndGlyphs" stroke="#131722" stroke-width="0.3">4,300.000</text>
<text x="956.1" y="570.6" font-size="11" fill="#131722" textLength="48.7" lengthAdjust="spacingAndGlyphs" stroke="#131722" stroke-width="0.3">4,400.000</text>
<text x="956.1" y="530.4" font-size="11" fill="#131722" textLength="48.7" lengthAdjust="spacingAndGlyphs" stroke="#131722" stroke-width="0.3">4,500.000</text>
<text x="956.1" y="490.2" font-size="11" fill="#131722" textLength="48.7" lengthAdjust="spacingAndGlyphs" stroke="#131722" stroke-width="0.3">4,600.000</text>
<text x="956.1" y="450.0" font-size="11" fill="#131722" textLength="48.7" lengthAdjust="spacingAndGlyphs" stroke="#131722" stroke-width="0.3">4,700.000</text>
<text x="956.1" y="409.8" font-size="11" fill="#131722" textLength="48.7" lengthAdjust="spacingAndGlyphs" stroke="#131722" stroke-width="0.3">4,800.000</text>
<text x="956.1" y="369.6" font-size="11" fill="#131722" textLength="48.7" lengthAdjust="spacingAndGlyphs" stroke="#131722" stroke-width="0.3">4,900.000</text>
<text x="956.1" y="329.4" font-size="11" fill="#131722" textLength="48.7" lengthAdjust="spacingAndGlyphs" stroke="#131722" stroke-width="0.3">5,000.000</text>
<text x="956.1" y="289.2" font-size="11" fill="#131722" textLength="48.7" lengthAdjust="spacingAndGlyphs" stroke="#131722" stroke-width="0.3">5,100.000</text>
<text x="956.1" y="249.0" font-size="11" fill="#131722" textLength="48.7" lengthAdjust="spacingAndGlyphs" stroke="#131722" stroke-width="0.3">5,200.000</text>
<text x="956.1" y="208.7" font-size="11" fill="#131722" textLength="48.7" lengthAdjust="spacingAndGlyphs" stroke="#131722" stroke-width="0.3">5,300.000</text>
<text x="956.1" y="168.5" font-size="11" fill="#131722" textLength="48.7" lengthAdjust="spacingAndGlyphs" stroke="#131722" stroke-width="0.3">5,400.000</text>
<text x="956.1" y="128.3" font-size="11" fill="#131722" textLength="48.7" lengthAdjust="spacingAndGlyphs" stroke="#131722" stroke-width="0.3">5,500.000</text>
<text x="956.1" y="88.1" font-size="11" fill="#131722" textLength="48.7" lengthAdjust="spacingAndGlyphs" stroke="#131722" stroke-width="0.3">5,600.000</text>
<text x="956.1" y="47.9" font-size="11" fill="#131722" textLength="48.7" lengthAdjust="spacingAndGlyphs" stroke="#131722" stroke-width="0.3">5,700.000</text>
<text x="55.2" y="631.7" font-size="11" fill="#131722" text-anchor="middle" stroke="#131722" stroke-width="0.3">8</text>
<text x="116.7" y="631.7" font-size="11" fill="#131722" text-anchor="middle" stroke="#131722" stroke-width="0.3">11</text>
<text x="188.7" y="631.7" font-size="11" fill="#131722" text-anchor="middle" stroke="#131722" stroke-width="0.3">14</text>
<text x="255.4" y="631.7" font-size="11" fill="#131722" text-anchor="middle" stroke="#131722" stroke-width="0.3">16</text>
<text x="322.2" y="631.7" font-size="11" fill="#131722" text-anchor="middle" stroke="#131722" stroke-width="0.3">20</text>
<text x="388.9" y="631.7" font-size="11" fill="#131722" text-anchor="middle" stroke="#131722" stroke-width="0.3">22</text>
<text x="450.4" y="631.7" font-size="11" fill="#131722" text-anchor="middle" stroke="#131722" stroke-width="0.3">25</text>
<text x="522.4" y="631.7" font-size="11" fill="#131722" text-anchor="middle" stroke="#131722" stroke-width="0.3">28</text>
<text x="617.3" y="631.7" font-size="11" fill="#131722" text-anchor="middle" font-weight="bold" stroke="#131722" stroke-width="0.3">Feb</text>
<text x="689.3" y="631.7" font-size="11" fill="#131722" text-anchor="middle" stroke="#131722" stroke-width="0.3">4</text>
<text x="756.0" y="631.7" font-size="11" fill="#131722" text-anchor="middle" stroke="#131722" stroke-width="0.3">6</text>
<text x="822.8" y="631.7" font-size="11" fill="#131722" text-anchor="middle" stroke="#131722" stroke-width="0.3">10</text>
<text x="889.5" y="631.7" font-size="11" fill="#131722" text-anchor="middle" stroke="#131722" stroke-width="0.3">12</text>
<g><circle cx="889.35" cy="602.1" r="9.15" fill="#fff" stroke="#9c27b0" stroke-width="1.5"/><path d="M892.3 596.8 L884.9 602.9 L888.9 602.9 L886.0 607.5 L893.6 601.1 L889.7 601.1 Z" fill="#9c27b0"/></g>
<g transform="translate(906.05 602.20)"><circle cx="0" cy="0" r="9.3" fill="#fff" stroke="#f23645" stroke-width="1.5"/><g clip-path="url(#fc)"><rect x="-8" y="-8" width="16" height="16" fill="#f5f5f7"/><rect x="-8" y="-7.40" width="16" height="2.96" fill="#ef5350"/><rect x="-8" y="-1.48" width="16" height="2.96" fill="#ef5350"/><rect x="-8" y="4.44" width="16" height="2.96" fill="#ef5350"/><rect x="-8" y="-8" width="9.3" height="9.6" fill="#3d8be8"/><g fill="#fff" opacity="0.9"><circle cx="-5.2" cy="-5.6" r="0.5"/><circle cx="-3.0" cy="-5.6" r="0.5"/><circle cx="-0.8" cy="-5.6" r="0.5"/><circle cx="-5.2" cy="-3.3" r="0.5"/><circle cx="-3.0" cy="-3.3" r="0.5"/><circle cx="-0.8" cy="-3.3" r="0.5"/><circle cx="-5.2" cy="-1.0" r="0.5"/><circle cx="-3.0" cy="-1.0" r="0.5"/><circle cx="-0.8" cy="-1.0" r="0.5"/></g></g></g>
<circle cx="895.55" cy="595.6" r="3.3" fill="#fff"/><circle cx="895.55" cy="595.6" r="2.35" fill="#f23645"/>
<g transform="translate(933.60 602.20)"><circle cx="0" cy="0" r="9.3" fill="#fff" stroke="#f23645" stroke-width="1.5"/><g clip-path="url(#fc)"><rect x="-8" y="-8" width="16" height="16" fill="#f5f5f7"/><rect x="-8" y="-7.40" width="16" height="2.96" fill="#ef5350"/><rect x="-8" y="-1.48" width="16" height="2.96" fill="#ef5350"/><rect x="-8" y="4.44" width="16" height="2.96" fill="#ef5350"/><rect x="-8" y="-8" width="9.3" height="9.6" fill="#3d8be8"/><g fill="#fff" opacity="0.9"><circle cx="-5.2" cy="-5.6" r="0.5"/><circle cx="-3.0" cy="-5.6" r="0.5"/><circle cx="-0.8" cy="-5.6" r="0.5"/><circle cx="-5.2" cy="-3.3" r="0.5"/><circle cx="-3.0" cy="-3.3" r="0.5"/><circle cx="-0.8" cy="-3.3" r="0.5"/><circle cx="-5.2" cy="-1.0" r="0.5"/><circle cx="-3.0" cy="-1.0" r="0.5"/><circle cx="-0.8" cy="-1.0" r="0.5"/></g></g></g>
<rect x="948.2" y="593.6" width="48.3" height="15.5" fill="#ef5350"/>
<text x="956.7" y="605.4" font-size="11" fill="#fff" textLength="35.3" lengthAdjust="spacingAndGlyphs" stroke="#fff" stroke-width="0.3">60.55 K</text>
<rect x="948.1" y="296.7" width="61.8" height="29" rx="1.8" fill="#f23645"/>
<text x="956.7" y="307.8" font-size="11" fill="#fff" textLength="48.7" lengthAdjust="spacingAndGlyphs" stroke="#fff" stroke-width="0.3">5,054.790</text>
<text x="956.7" y="321.2" font-size="11" fill="#fff" textLength="42.5" lengthAdjust="spacingAndGlyphs" stroke="#fff" stroke-width="0.3" opacity="0.9">01:25:48</text>
<g transform="translate(11.4 657.8) scale(0.768 0.757)" fill="#111114"><path d="M14 22H7V11H0V4h14v18zM28 22h-8l7.5-18h8L28 22z"/><circle cx="20" cy="8" r="4"/></g>
<text x="45.6" y="674" font-size="18.5" font-weight="bold" fill="#111114" textLength="112.4" lengthAdjust="spacingAndGlyphs">TradingView</text>
</svg></body></html>
